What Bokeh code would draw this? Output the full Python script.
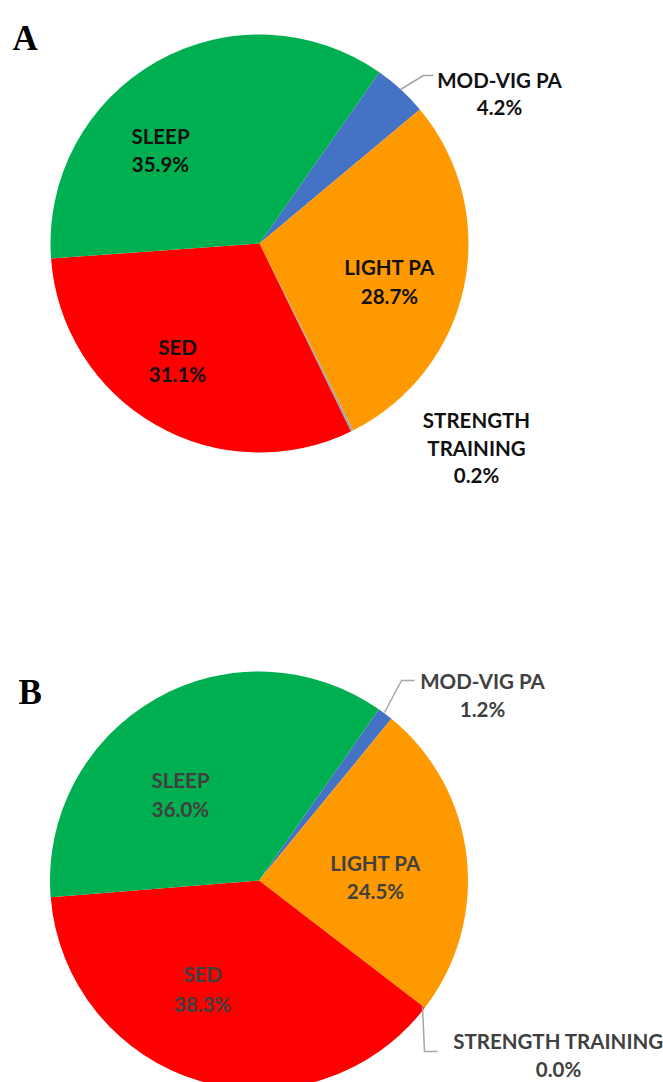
import numpy as np
from bokeh.plotting import figure
from bokeh.models import Range1d, ColumnDataSource
from bokeh.core.properties import value
from bokeh.embed import file_html
from bokeh.resources import INLINE

# ---------------- data ----------------
categories = ["MOD-VIG PA", "LIGHT PA", "STRENGTH TRAINING", "SED", "SLEEP"]
values_a = [4.2, 28.7, 0.2, 31.1, 35.9]
values_b = [1.2, 24.5, 0.0, 38.3, 36.0]
panel_labels = ["A", "B"]

# ---------------- styles / layout ----------------
colors = ["#4472C4", "#FF9900", "#A5A5A5", "#FF0000", "#00B050"]
W, H = 663, 1082
FONT = "Lato"
FS = "20.5px"

p = figure(width=W, height=H, x_range=Range1d(0, W), y_range=Range1d(-H, 0),
           output_backend="svg", toolbar_location=None,
           x_axis_location=None, y_axis_location=None, min_border=0)
p.grid.visible = False
p.outline_line_color = None
p.background_fill_color = "white"
p.border_fill_color = "white"


def add_pie(vals, cx, cy, r, start_deg):
    v = np.array(vals, float)
    frac = v / v.sum()
    ends = start_deg + np.cumsum(frac) * 360.0
    starts = ends - frac * 360.0
    keep = v > 0
    src = ColumnDataSource(dict(
        start=np.radians(90 - starts[keep]),
        end=np.radians(90 - ends[keep]),
        color=[c for c, k in zip(colors, keep) if k],
    ))
    p.wedge(x=cx, y=-cy, radius=r, start_angle="start", end_angle="end",
            direction="clock", fill_color="color", line_color=None, source=src)


def add_labels(vals, layout, color):
    xs, ys, texts = [], [], []
    for cat, v, (x, baselines, wrap) in zip(categories, vals, layout):
        lines = cat.split(" ") if wrap else [cat]
        lines = lines + [f"{v:.1f}%"]
        for t, b in zip(lines, baselines):
            xs.append(x)
            ys.append(-b)
            texts.append(t)
    p.text(x=xs, y=ys, text=texts, text_font=value(FONT), text_font_style="bold",
           text_font_size=FS, text_color=color, text_align="center",
           text_baseline="alphabetic")


# Pie A
add_pie(values_a, 259, 243, 209, 35)
layout_a = [
    (499, [79, 106], False),
    (389, [266.5, 295.5], False),
    (476, [419.5, 447.5, 474.5], True),
    (177, [346, 373.5], False),
    (160, [135.5, 163.5], False),
]
add_labels(values_a, layout_a, "#111111")
p.line(x=[400, 423, 433], y=[-89, -75, -75], line_color="#A6A6A6", line_width=1.5)

# Pie B
add_pie(values_b, 258.5, 880, 209, 35)
layout_b = [
    (482, [680, 708], False),
    (375, [862, 890], False),
    (558, [1040, 1068], False),
    (202, [973, 1003], False),
    (180, [779, 808], False),
]
add_labels(values_b, layout_b, "#404040")
p.line(x=[384, 401, 414], y=[-712, -680, -680], line_color="#A6A6A6", line_width=1.5)
p.line(x=[422, 424, 437], y=[-1006, -1051, -1051], line_color="#A6A6A6", line_width=1.5)

# Panel letters
p.text(x=[12, 18], y=[-38, -692], text=panel_labels, text_font=value("Liberation Serif"),
       text_font_style="bold", text_font_size="35px", text_color="black",
       text_align="left", text_baseline="alphabetic")

open("out.html", "w").write(file_html(p, INLINE))
